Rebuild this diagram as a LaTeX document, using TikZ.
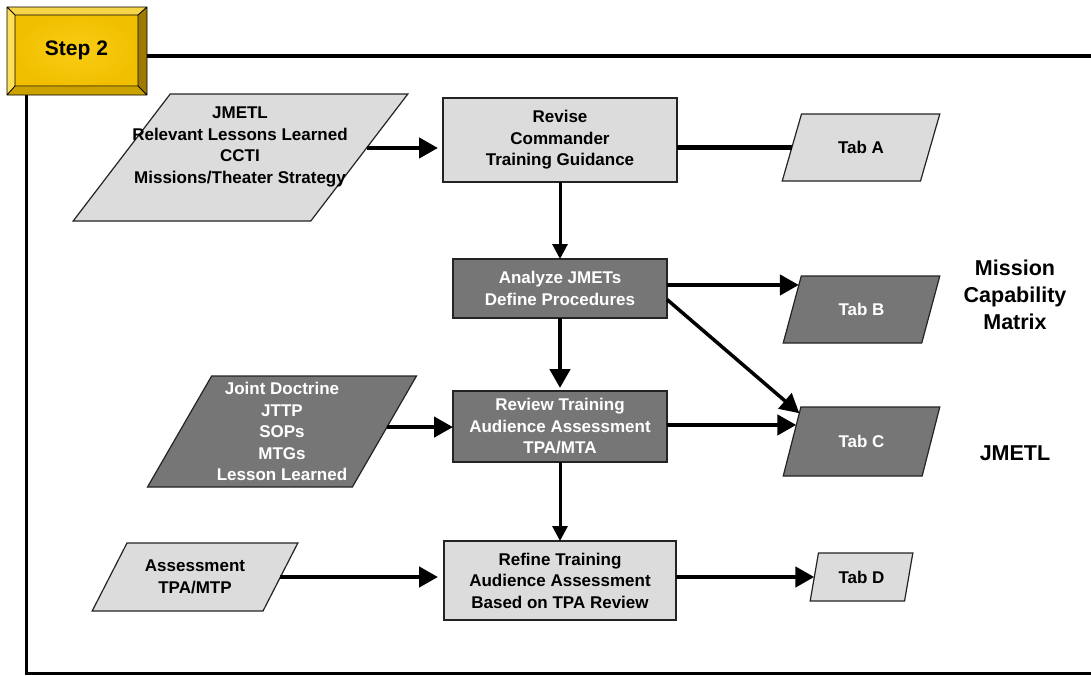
\documentclass[tikz,border=0pt]{standalone}
\usepackage{fontspec}
\setmainfont{Liberation Sans}
\usetikzlibrary{shapes.geometric,arrows.meta,calc}

\definecolor{boxlight}{RGB}{220,220,220}
\definecolor{boxdark}{RGB}{118,118,118}
\definecolor{edgegray}{RGB}{35,35,35}
\definecolor{goldface}{RGB}{240,192,0}
\definecolor{goldcenter}{RGB}{250,204,20}
\definecolor{bevelTop}{RGB}{246,212,72}
\definecolor{bevelLeft}{RGB}{255,222,90}
\definecolor{bevelRight}{RGB}{158,123,0}
\definecolor{bevelBottom}{RGB}{204,162,0}

\begin{document}
\begin{tikzpicture}[x=1pt,y=-1pt,
  txt/.style={font=\bfseries\fontsize{17}{21.5}\selectfont, align=center},
  procbox/.style={draw=edgegray, line width=1.2pt, rectangle, inner sep=0pt, outer sep=0pt, txt},
  light/.style={fill=boxlight, text=black},
  dark/.style={fill=boxdark, text=white},
  databox/.style={draw=edgegray, line width=1.2pt, trapezium, trapezium stretches=true,
                  inner sep=0pt, outer sep=0pt, txt},
  arr/.style={line width=4.5pt, -{Triangle[length=19pt,width=20pt]}},
  arrthin/.style={line width=3pt, -{Triangle[length=15pt,width=15pt]}},
  link/.style={line width=4.5pt},
  sidenote/.style={font=\bfseries\fontsize{21.5}{27}\selectfont, align=center},
]
\useasboundingbox (0,0) rectangle (1091,675);

% ---- frame ----
\draw[line width=4pt] (147,56) -- (1091,56);
\draw[line width=3pt] (26,95) -- (26,673) -- (1091,673);

% ---- bevelled "Step 2" button ----
\fill[bevelTop] (7,7) -- (147,7) -- (138,15) -- (15,15) -- cycle;
\fill[bevelLeft] (7,7) -- (15,15) -- (15,86) -- (7,95) -- cycle;
\fill[bevelRight] (147,7) -- (147,95) -- (138,86) -- (138,15) -- cycle;
\fill[bevelBottom] (7,95) -- (15,86) -- (138,86) -- (147,95) -- cycle;
\node[inner color=goldcenter, outer color=goldface, minimum width=123pt, minimum height=71pt,
      inner sep=0pt, outer sep=0pt, font=\bfseries\fontsize{21}{24}\selectfont]
      (step) at (76.5,50.5) {\raisebox{3pt}{Step 2}};
\draw[line width=0.8pt] (7,7) rectangle (147,95) (15,15) rectangle (138,86)
      (7,7) -- (15,15) (147,7) -- (138,15) (7,95) -- (15,86) (147,95) -- (138,86);

% ---- process boxes ----
\node[procbox, light, minimum width=234pt, minimum height=84pt] (rev) at (560,140)
      {Revise\\Commander\\Training Guidance};
\node[procbox, dark, minimum width=214pt, minimum height=59pt] (ana) at (560,288.5)
      {Analyze JMETs\\Define Procedures};
\node[procbox, dark, minimum width=214pt, minimum height=71pt] (review) at (560,426.5)
      {Review Training\\Audience Assessment\\TPA/MTA};
\node[procbox, light, minimum width=232pt, minimum height=79pt] (refine) at (560,580.5)
      {Refine Training\\Audience Assessment\\Based on TPA Review};

% ---- data (parallelogram) boxes ----
\node[databox, light, minimum width=335pt, minimum height=127pt,
      trapezium left angle=56.2, trapezium right angle=123.8] (jin) at (240.5,157.5)
      {\phantom{X}};
\node[txt] (jinTxt) at (240,147)
      {JMETL\\Relevant Lessons Learned\\CCTI\\Missions/Theater Strategy};
\node[databox, dark, minimum width=270pt, minimum height=111pt,
      trapezium left angle=58.9, trapezium right angle=121.1] (joint) at (282,431.5)
      {Joint Doctrine\\JTTP\\SOPs\\MTGs\\Lesson Learned};
\node[databox, light, minimum width=206pt, minimum height=68pt,
      trapezium left angle=52.6, trapezium right angle=127.4] (assess) at (195,577)
      {Assessment\\TPA/MTP};
\node[databox, light, minimum width=158pt, minimum height=67pt,
      trapezium left angle=59.2, trapezium right angle=120.8] (tabA) at (861,147.5) {Tab A};
\node[databox, dark, minimum width=157pt, minimum height=67pt,
      trapezium left angle=61.1, trapezium right angle=118.9] (tabB) at (861.5,309.5) {Tab B};
\node[databox, dark, minimum width=157pt, minimum height=69pt,
      trapezium left angle=61.8, trapezium right angle=118.2] (tabC) at (861.5,441.5) {Tab C};
\node[databox, light, minimum width=103pt, minimum height=48pt,
      trapezium left angle=70.5, trapezium right angle=109.5] (tabD) at (861.5,577) {Tab D};

% ---- side notes ----
\node[sidenote] (mcm) at (1015,295) {Mission\\Capability\\Matrix};
\node[sidenote] (jmetl) at (1015,453) {JMETL};

% ---- connectors ----
\coordinate (jOut) at ($(jin.top right corner)!0.425!(jin.bottom right corner)$);
\draw[arr, shorten >=5pt] (jOut) -- (jOut -| rev.west);
\draw[link] (rev.east |- tabA.west) -- (tabA.west);
\draw[arrthin] (rev.south) -- (ana.north);
\coordinate (bIn) at ($(tabB.top left corner)!0.134!(tabB.bottom left corner)$);
\draw[arr] (ana.east |- bIn) -- (bIn);
\coordinate (cTop) at ($(tabC.top left corner)!0.09!(tabC.bottom left corner)$);
\draw[arr, line width=3.5pt] ([yshift=-11pt]ana.east) -- (cTop);
\draw[arr, shorten >=3pt] (ana.south) -- (review.north);
\coordinate (jdOut) at ($(joint.top right corner)!0.46!(joint.bottom right corner)$);
\draw[arr] (jdOut) -- (jdOut -| review.west);
\coordinate (cIn) at ($(tabC.top left corner)!0.26!(tabC.bottom left corner)$);
\draw[arr] (review.east |- cIn) -- (cIn);
\draw[arrthin] (review.south) -- (refine.north);
\draw[arr, shorten >=6pt] (assess.east) -- (refine.west |- assess.east);
\draw[arr] (refine.east |- tabD.west) -- (tabD.west);
\end{tikzpicture}
\end{document}
